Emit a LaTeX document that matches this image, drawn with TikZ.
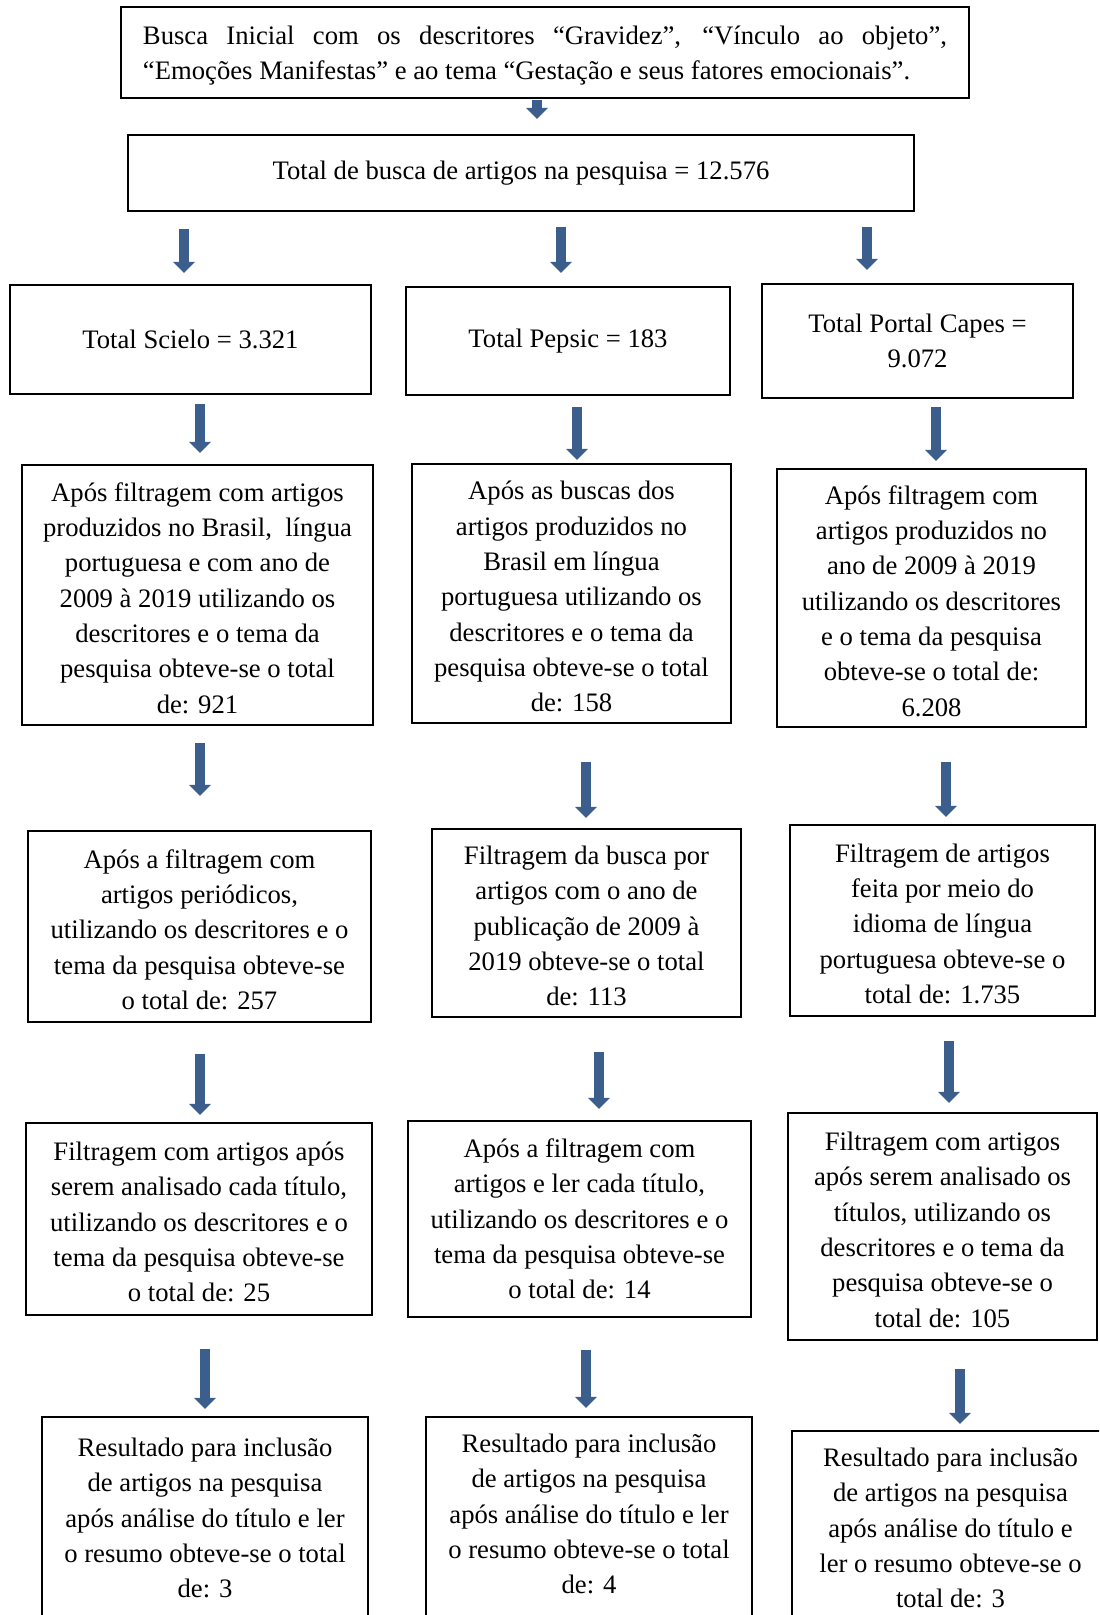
\documentclass[tikz,border=0pt]{standalone}
\usepackage{fontspec}
\setmainfont{Liberation Serif}
\usepackage{tikz}
\usetikzlibrary{arrows.meta}
\definecolor{arrowblue}{RGB}{59,94,140}

\begin{document}
\begin{tikzpicture}[x=0.45pt,y=-0.45pt,
                    box/.style={draw, line width=0.9pt, inner sep=0pt, outer sep=0pt,
                                align=center, font=\fontsize{12}{15.9}\selectfont},
                    textbox/.style={box, align=flush center, text width=#1, minimum width=#1,
                                    execute at begin node=\strut},
                    lastbox/.style={box, anchor=north, inner ysep=7.6pt, text depth=100pt},
                    flow/.style={arrowblue, line width=4.3pt,
                                 -{Triangle[length=5pt,width=9.6pt]}}]
  \useasboundingbox (0,0) rectangle (1099,1615);
  \clip (0,0) rectangle (1099,1615);

  \node[box, align=justify, text width=361.8pt, minimum width=381.6pt, minimum height=40.95pt,
        execute at begin node=\strut]
    (busca) at (545,52.5) {Busca Inicial com os descritores “Gravidez”, “Vínculo ao objeto”,\linebreak
    “Emoções Manifestas” e ao tema “Gestação e seus fatores emocionais”.};
  \node[box, minimum width=353.7pt, minimum height=34.2pt] (total) at (521,173)
    {Total de busca de artigos na pesquisa = 12.576};

  \node[box, minimum width=162.45pt, minimum height=49.05pt] (sci) at (190.5,339.5) {Total Scielo = 3.321};
  \node[box, minimum width=145.8pt,  minimum height=48.6pt]  (pep) at (568,341)     {Total Pepsic = 183};
  \node[box, minimum width=139.95pt, minimum height=51.3pt]  (cap) at (917.5,341)   {Total Portal Capes =\\9.072};

  \node[textbox=157.95pt, minimum height=117pt] (sci1) at (197.5,595)
    {Após filtragem com artigos\\produzidos no Brasil,~ língua\\portuguesa e com ano de\\2009 à 2019 utilizando os\\descritores e o tema da\\pesquisa obteve-se o total\\de: 921};
  \node[textbox=143.55pt, minimum height=116.55pt] (pep1) at (571.5,593.5)
    {Após as buscas dos\\artigos produzidos no\\Brasil em língua\\portuguesa utilizando os\\descritores e o tema da\\pesquisa obteve-se o total\\de: 158};
  \node[textbox=139.05pt, minimum height=116.1pt] (cap1) at (931.5,598)
    {Após filtragem com\\artigos produzidos no\\ano de 2009 à 2019\\utilizando os descritores\\e o tema da pesquisa\\obteve-se o total de:\\6.208};

  \node[textbox=154.35pt, minimum height=85.95pt] (sci2) at (199.5,926.5)
    {Após a filtragem com\\artigos periódicos,\\utilizando os descritores e o\\tema da pesquisa obteve-se\\o total de: 257};
  \node[textbox=139.05pt, minimum height=84.6pt] (pep2) at (586.5,923)
    {Filtragem da busca por\\artigos com o ano de\\publicação de 2009 à\\2019 obteve-se o total\\de: 113};
  \node[textbox=137.25pt, minimum height=85.95pt] (cap2) at (942.5,920.5)
    {Filtragem de artigos\\feita por meio do\\idioma de língua\\portuguesa obteve-se o\\total de: 1.735};

  \node[textbox=155.7pt, minimum height=86.4pt] (sci3) at (199,1219)
    {Filtragem com artigos após\\serem analisado cada título,\\utilizando os descritores e o\\tema da pesquisa obteve-se\\o total de: 25};
  \node[box, minimum width=154.35pt, minimum height=88.2pt] (pep3) at (579.5,1219)
    {Após a filtragem com\\artigos e ler cada título,\\utilizando os descritores e o\\tema da pesquisa obteve-se\\o total de: 14};
  \node[textbox=139.05pt, minimum height=102.15pt] (cap3) at (942.5,1226.5)
    {Filtragem com artigos\\após serem analisado os\\títulos, utilizando os\\descritores e o tema da\\pesquisa obteve-se o\\total de: 105};

  \node[lastbox, inner ysep=9.4pt, minimum width=146.7pt] (sci4) at (205,1417)
    {Resultado para inclusão\\de artigos na pesquisa\\após análise do título e ler\\o resumo obteve-se o total\\de: 3};
  \node[lastbox, minimum width=146.7pt] (pep4) at (589,1417)
    {Resultado para inclusão\\de artigos na pesquisa\\após análise do título e ler\\o resumo obteve-se o total\\de: 4};
  \node[lastbox, minimum width=142.65pt] (cap4) at (950.5,1431)
    {Resultado para inclusão\\de artigos na pesquisa\\após análise do título e\\ler o resumo obteve-se o\\total de: 3};

  \draw[flow] ([xshift=-3.6pt,yshift=-0.9pt]busca.south) -- ([xshift=7.2pt,yshift=7.2pt]total.north);
  \draw[flow] ([xshift=-151.65pt,yshift=-8.1pt]total.south) -- ([xshift=-2.925pt,yshift=5.4pt]sci.north);
  \draw[flow] ([xshift=18pt,yshift=-7.2pt]total.south) -- ([xshift=-3.15pt,yshift=6.3pt]pep.north);
  \draw[flow] ([xshift=155.7pt,yshift=-7.2pt]total.south) -- ([xshift=-22.725pt,yshift=6.3pt]cap.north);
  \draw[flow] ([xshift=4.275pt,yshift=-4.5pt]sci.south) -- ([xshift=1.125pt,yshift=5.4pt]sci1.north);
  \draw[flow] ([xshift=4.05pt,yshift=-5.4pt]pep.south) -- ([xshift=2.475pt,yshift=1.8pt]pep1.north);
  \draw[flow] ([xshift=8.325pt,yshift=-4.05pt]cap.south) -- ([xshift=2.025pt,yshift=3.6pt]cap1.north);
  \draw[flow] ([xshift=1.125pt,yshift=-8.1pt]sci1.south) -- ([xshift=0.225pt,yshift=15.75pt]sci2.north);
  \draw[flow] ([xshift=6.525pt,yshift=-17.55pt]pep1.south) -- ([xshift=-0.225pt,yshift=4.95pt]pep2.north);
  \draw[flow] ([xshift=6.525pt,yshift=-15.75pt]cap1.south) -- ([xshift=1.575pt,yshift=3.6pt]cap2.north);
  \draw[flow] ([xshift=0.225pt,yshift=-14.4pt]sci2.south) -- ([xshift=0.45pt,yshift=3.6pt]sci3.north);
  \draw[flow] ([xshift=5.625pt,yshift=-15.75pt]pep2.south) -- ([xshift=8.775pt,yshift=5.4pt]pep3.north);
  \draw[flow] ([xshift=2.925pt,yshift=-11.25pt]cap2.south) -- ([xshift=2.925pt,yshift=4.5pt]cap3.north);
  \draw[flow] ([xshift=2.7pt,yshift=-15.3pt]sci3.south) -- ([yshift=3.6pt]sci4.north);
  \draw[flow] ([xshift=2.925pt,yshift=-14.85pt]pep3.south) -- ([xshift=-1.35pt,yshift=4.05pt]pep4.north);
  \draw[flow] ([xshift=7.875pt,yshift=-13.05pt]cap3.south) -- ([xshift=4.275pt,yshift=3.15pt]cap4.north);
\end{tikzpicture}
\end{document}
